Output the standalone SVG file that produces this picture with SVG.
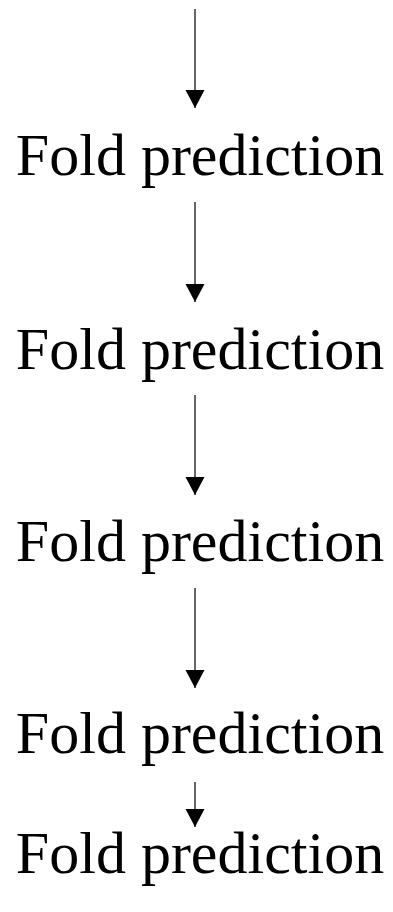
<svg xmlns="http://www.w3.org/2000/svg" width="393" height="912" viewBox="0 0 393 912">
  <style>
    .lbl { font-family: "Liberation Serif", "Times New Roman", serif; font-size: 60px; fill: #000; text-anchor: middle; }
    .edge { stroke: #333; stroke-width: 1.5; fill: none; marker-end: url(#ah); }
  </style>
  <defs>
    <marker id="ah" markerUnits="userSpaceOnUse" markerWidth="20" markerHeight="20" viewBox="0 -10 20 20" refX="18" refY="0" orient="auto">
      <path d="M0,-9.5 L18,0 L0,9.5 z" fill="#000"/>
    </marker>
  </defs>
  <rect width="393" height="912" fill="#fff"/>
  <g id="connectors">
    <line class="edge" x1="195" y1="9" x2="195" y2="108"/>
    <line class="edge" x1="195" y1="202" x2="195" y2="302"/>
    <line class="edge" x1="195" y1="395" x2="195" y2="495"/>
    <line class="edge" x1="195" y1="588" x2="195" y2="688"/>
    <line class="edge" x1="195" y1="782" x2="195" y2="827"/>
  </g>
  <g id="node1"><text class="lbl" x="200" y="175">Fold prediction</text></g>
  <g id="node2"><text class="lbl" x="200" y="369">Fold prediction</text></g>
  <g id="node3"><text class="lbl" x="200" y="561">Fold prediction</text></g>
  <g id="node4"><text class="lbl" x="200" y="753">Fold prediction</text></g>
  <g id="node5"><text class="lbl" x="200" y="873">Fold prediction</text></g>
</svg>
